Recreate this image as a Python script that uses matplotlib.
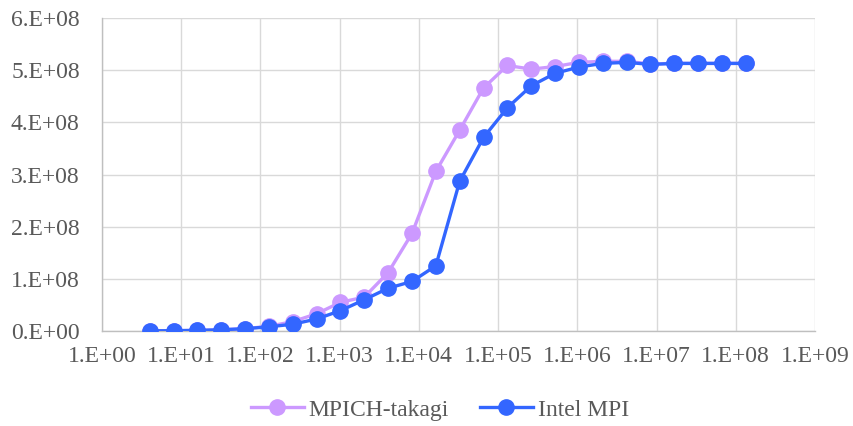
import math
import matplotlib
matplotlib.use('Agg')
import matplotlib.pyplot as plt
from matplotlib.ticker import FixedLocator, FuncFormatter

# message sizes (bytes) and bandwidth values
sizes = [4, 8, 16, 32, 64, 128, 256, 512, 1024, 2048, 4096, 8192, 16384,
         32768, 65536, 131072, 262144, 524288, 1048576, 2097152, 4194304,
         8388608, 16777216, 33554432, 67108864, 134217728]

mpich = [3e5, 6e5, 1.2e6, 2.3e6, 4.5e6, 9e6, 1.8e7, 3.3e7, 5.5e7, 6.5e7,
         1.12e8, 1.87e8, 3.06e8, 3.85e8, 4.66e8, 5.09e8, 5.02e8, 5.07e8,
         5.15e8, 5.17e8, 5.17e8, 5.12e8, 5.13e8, 5.13e8, 5.13e8, 5.13e8]

intel = [3e5, 6e5, 1.2e6, 2.3e6, 4.5e6, 8e6, 1.3e7, 2.3e7, 3.9e7, 6.0e7,
         8.2e7, 9.5e7, 1.25e8, 2.87e8, 3.71e8, 4.28e8, 4.70e8, 4.94e8,
         5.06e8, 5.13e8, 5.15e8, 5.11e8, 5.13e8, 5.13e8, 5.13e8, 5.13e8]

x_ticks = [1e0, 1e1, 1e2, 1e3, 1e4, 1e5, 1e6, 1e7, 1e8, 1e9]
y_ticks = [0, 1e8, 2e8, 3e8, 4e8, 5e8, 6e8]

plt.rcParams['font.family'] = ['Liberation Serif', 'DejaVu Serif']

fig = plt.figure(figsize=(8.54, 4.26), dpi=100)
ax = fig.add_axes([0.1194, 0.223, 0.8349, 0.7347])

ax.plot(sizes, mpich, color='#CC99FF', lw=2.4, marker='o', ms=11,
        label='MPICH-takagi', zorder=3)
ax.plot(sizes, intel, color='#3366FF', lw=2.4, marker='o', ms=11,
        label='Intel MPI', zorder=4)

ax.set_xscale('log')
ax.set_xlim(1e0, 1e9)
ax.set_ylim(0, 6e8)
ax.xaxis.set_major_locator(FixedLocator(x_ticks))
ax.xaxis.set_minor_locator(FixedLocator([]))
ax.yaxis.set_major_locator(FixedLocator(y_ticks))


# Excel-style "6.E+08" labels
def sci(v, pos):
    if v == 0:
        return '0.E+00'
    e = int(math.floor(math.log10(abs(v)) + 1e-9))
    m = v / 10 ** e
    return '%d.E+%02d' % (round(m), e)


ax.xaxis.set_major_formatter(FuncFormatter(sci))
ax.yaxis.set_major_formatter(FuncFormatter(sci))

ax.grid(True, color='#D9D9D9', lw=1.0)
ax.set_axisbelow(True)
for s in ['top', 'right']:
    ax.spines[s].set_visible(False)
for s in ['left', 'bottom']:
    ax.spines[s].set_color('#BFBFBF')
    ax.spines[s].set_linewidth(1.0)

ax.tick_params(axis='both', length=0, labelsize=17, labelcolor='#595959')
ax.tick_params(axis='y', pad=16)
ax.tick_params(axis='x', pad=11)

leg = fig.legend(loc='center', bbox_to_anchor=(0.515, 0.038), ncol=2,
                 frameon=False, fontsize=17, handlelength=2.25,
                 columnspacing=1.3, handletextpad=0.2, borderpad=0.1)
for t in leg.get_texts():
    t.set_color('#595959')

fig.savefig('out.png', dpi=100)
